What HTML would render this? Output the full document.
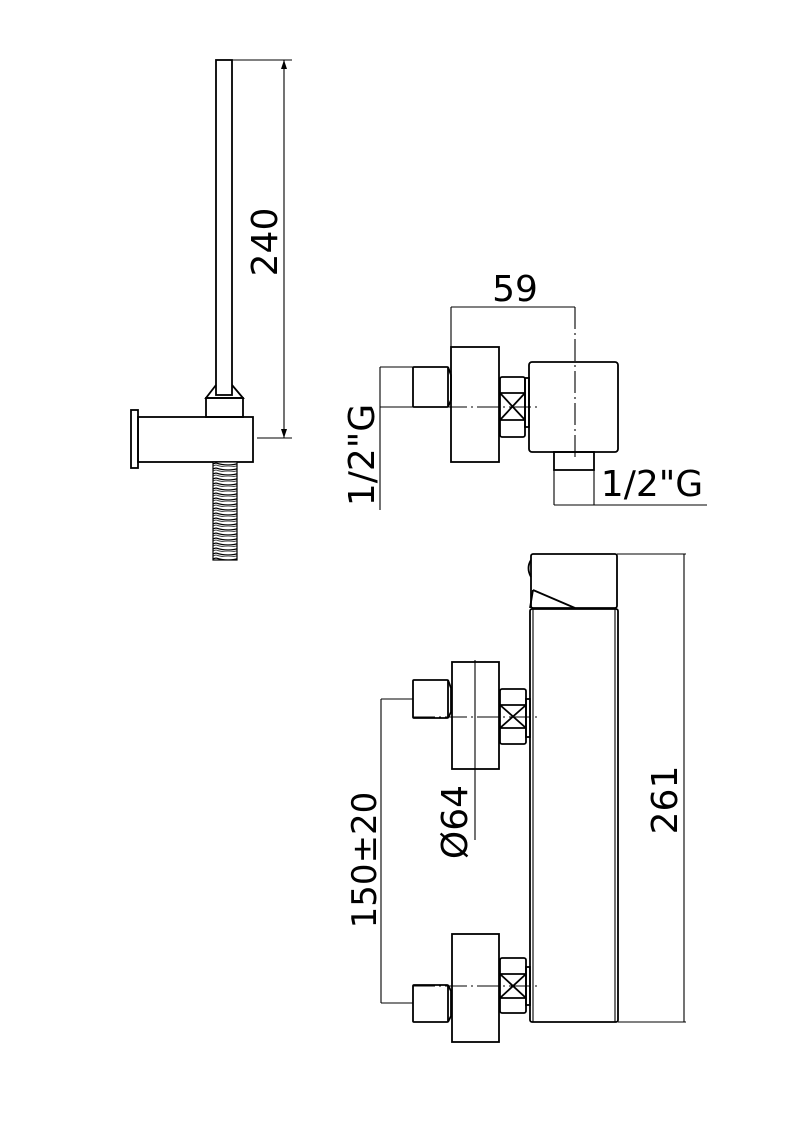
<!DOCTYPE html>
<html><head><style>
html,body{margin:0;padding:0;background:#fff;}
svg{display:block;}
text{font-family:"DejaVu Sans","Liberation Sans",sans-serif;fill:#000;}
</style></head><body>
<svg width="800" height="1142" viewBox="0 0 800 1142" xmlns="http://www.w3.org/2000/svg">
<defs>
<pattern id="hose" x="0" y="462" width="24" height="5" patternUnits="userSpaceOnUse">
<rect width="24" height="5" fill="#fff"/>
<path d="M0,1 Q12,5 24,1" stroke="#000" stroke-width="1.3" fill="none"/>
<path d="M0,3 Q12,7 24,3" stroke="#444" stroke-width="1" fill="none"/>
</pattern>
</defs>
<g fill="none" stroke="#000" stroke-width="1.8">
<rect x="216" y="60" width="16" height="335"/>
<path d="M216,385 L206,398 L243,398 L232,385"/>
<rect x="206" y="398" width="37" height="19"/>
<rect x="138" y="417" width="115" height="45"/>
<rect x="131" y="410" width="7" height="58"/>
<rect x="213" y="462" width="24" height="98" fill="url(#hose)" stroke-width="1.2"/>
<g stroke-width="1.1">
<line x1="232" y1="60" x2="292" y2="60"/>
<line x1="257" y1="438" x2="292" y2="438"/>
<line x1="284" y1="60" x2="284" y2="438"/>
</g>
<path d="M284,60 l-3,9 h6z M284,438 l-3,-9 h6z" fill="#000" stroke="none"/>

<g stroke-width="1.1">
<line x1="451" y1="307" x2="575" y2="307"/>
<line x1="451" y1="307" x2="451" y2="347"/>
<line x1="575" y1="307" x2="575" y2="457" stroke-dasharray="22,4,2,4"/>
<line x1="380" y1="367" x2="413" y2="367"/>
<line x1="380" y1="407" x2="413" y2="407"/>
<line x1="380" y1="367" x2="380" y2="510"/>
<line x1="413" y1="407" x2="540" y2="407" stroke-dasharray="22,4,2,4"/>
<line x1="554" y1="470" x2="554" y2="505"/>
<line x1="594" y1="470" x2="594" y2="505"/>
<line x1="554" y1="505" x2="707" y2="505"/>
</g>
<rect x="413" y="367" width="35" height="40" rx="1"/>
<path d="M448,367 L451,375 L451,400 L448,407"/>
<rect x="451" y="347" width="48" height="115"/>
<rect x="500" y="377" width="25" height="60" rx="2"/>
<path d="M500,393 H525 M500,420 H525 M500,393 L525,420 M525,393 L500,420"/>
<rect x="525" y="378" width="4" height="49"/>
<rect x="529" y="362" width="89" height="90" rx="3"/>
<rect x="554" y="452" width="40" height="18"/>

<rect x="531" y="554" width="86" height="54" rx="2"/>
<path d="M531,560 Q526,568 531,577"/>
<path d="M533,590 L575,608 M533,590 L530,608"/>
<rect x="530" y="609" width="88" height="413" rx="2"/>
<line x1="533" y1="609" x2="533" y2="1022" stroke-width="1.1"/>
<line x1="615" y1="609" x2="615" y2="1022" stroke-width="1.1"/>
<g stroke-width="1.1">
<line x1="617" y1="554" x2="686" y2="554"/>
<line x1="618" y1="1022" x2="686" y2="1022"/>
<line x1="684" y1="554" x2="684" y2="1022"/>
</g>
<rect x="452" y="662" width="47" height="107"/>
<rect x="413" y="680" width="35" height="38" rx="1"/>
<path d="M448,680 L451,688 L451,712 L448,718"/>
<rect x="500" y="689" width="26" height="55" rx="2"/>
<path d="M500,705 H526 M500,728 H526 M500,705 L526,728 M526,705 L500,728"/>
<rect x="526" y="699" width="4" height="38"/>
<line x1="413" y1="717" x2="540" y2="717" stroke-width="1.1" stroke-dasharray="22,4,2,4"/>
<line x1="475" y1="660" x2="475" y2="840" stroke-width="1.1"/>
<rect x="452" y="934" width="47" height="108"/>
<rect x="413" y="985" width="35" height="37" rx="1"/>
<path d="M448,985 L451,991 L451,1016 L448,1022"/>
<rect x="500" y="958" width="26" height="55" rx="2"/>
<path d="M500,974 H526 M500,998 H526 M500,974 L526,998 M526,974 L500,998"/>
<rect x="526" y="967" width="4" height="38"/>
<line x1="413" y1="986" x2="540" y2="986" stroke-width="1.1" stroke-dasharray="22,4,2,4"/>
<g stroke-width="1.1">
<line x1="381" y1="699" x2="413" y2="699"/>
<line x1="381" y1="1003" x2="413" y2="1003"/>
<line x1="381" y1="699" x2="381" y2="1003"/>
</g>
</g>

<g font-size="36">
<text transform="translate(277,242) rotate(-90)" text-anchor="middle">240</text>
<text x="515" y="301" text-anchor="middle">59</text>
<text transform="translate(374,455) rotate(-90)" text-anchor="middle">1/2"G</text>
<text x="652" y="496" text-anchor="middle">1/2"G</text>
<text transform="translate(677,800) rotate(-90)" text-anchor="middle">261</text>
<text transform="translate(467,822) rotate(-90)" text-anchor="middle">Ø64</text>
<text transform="translate(376,860) rotate(-90)" text-anchor="middle" font-size="34">150±20</text>
</g>
</svg>
</body></html>
